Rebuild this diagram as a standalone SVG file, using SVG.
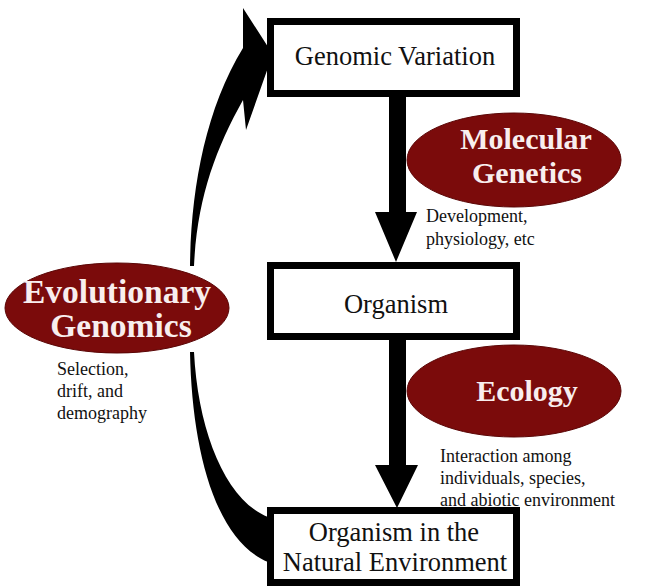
<svg xmlns="http://www.w3.org/2000/svg" width="646" height="586" viewBox="0 0 646 586">
<style>
.box{fill:#fff;stroke:#000;stroke-width:7}
.bt{font-family:"Liberation Serif","Times New Roman",serif;font-size:26.5px;fill:#111;text-anchor:middle}
.ell{fill:#7b0b0b;stroke:#5a0505;stroke-width:1}
.et{font-family:"Liberation Serif","Times New Roman",serif;font-size:30px;font-weight:bold;fill:#f8eeee;text-anchor:middle}
.et2{font-size:33.5px}
.st{font-family:"Liberation Serif","Times New Roman",serif;font-size:18px;fill:#111}
.arr{fill:#000}
</style>
<rect width="646" height="586" fill="#fff"/>
<g id="connectors">
<path class="arr" d="M389 97H406V212H417L396 262L375 212H389Z"/>
<path class="arr" d="M389 340H406V465H418L397 508L375 465H389Z"/>
<path class="arr" d="M190 266C191 190 205 110 243 48L243 8L270 50L270 62L246 130L243 100C215 150 197 200 194 266Z"/>
<path class="arr" d="M190 352C192 450 215 540 268 562L268 517C225 500 198 430 194 352Z"/>
</g>
<g id="genomic-variation">
<rect class="box" x="270.5" y="21.5" width="246" height="72"/>
<text class="bt" x="395" y="65">Genomic Variation</text>
</g>
<g id="organism">
<rect class="box" x="270.5" y="265.5" width="246" height="71"/>
<text class="bt" x="396" y="313">Organism</text>
</g>
<g id="organism-natural">
<rect class="box" x="270.5" y="510.5" width="246" height="72"/>
<text class="bt" x="394" y="541">Organism in the</text>
<text class="bt" x="395" y="571">Natural Environment</text>
</g>
<g id="molecular-genetics">
<ellipse class="ell" cx="514" cy="160" rx="107" ry="47"/>
<text class="et" x="526" y="149">Molecular</text>
<text class="et" x="527" y="183">Genetics</text>
</g>
<g id="ecology">
<ellipse class="ell" cx="514" cy="391" rx="107" ry="46"/>
<text class="et" x="527" y="401">Ecology</text>
</g>
<g id="evolutionary-genomics">
<ellipse class="ell" cx="117" cy="308" rx="112" ry="45"/>
<text class="et et2" x="117" y="303">Evolutionary</text>
<text class="et et2" x="121" y="337">Genomics</text>
</g>
<g id="labels">
<text class="st" x="426" y="222">Development,</text>
<text class="st" x="426" y="245">physiology, etc</text>
<text class="st" x="57" y="375">Selection,</text>
<text class="st" x="57" y="397">drift, and</text>
<text class="st" x="57" y="419">demography</text>
<text class="st" x="440" y="462">Interaction among</text>
<text class="st" x="440" y="484">individuals, species,</text>
<text class="st" x="440" y="506">and abiotic environment</text>
</g>
</svg>
